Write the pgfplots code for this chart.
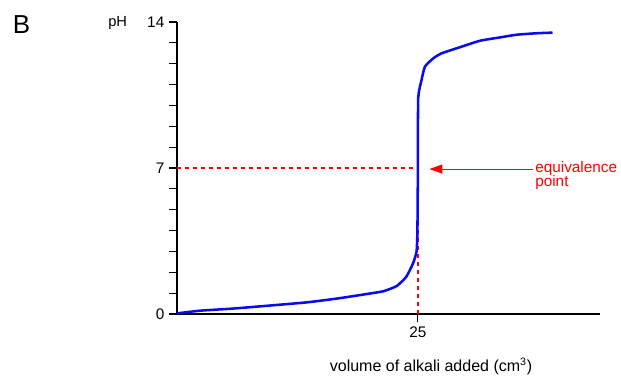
\documentclass[border=0pt]{standalone}
\usepackage{pgfplots}
\pgfplotsset{compat=1.18}
\usepackage{fontspec}
\setmainfont{Liberation Sans}
\usetikzlibrary{arrows.meta}
\definecolor{myred}{RGB}{255,0,0}
\definecolor{myblue}{RGB}{10,10,240}
\begin{document}
\begin{tikzpicture}
\useasboundingbox (0,0) rectangle (465.75pt,282pt);
\begin{axis}[
  at={(132.75pt,46.5pt)}, anchor=south west,
  scale only axis, width=317.25pt, height=219pt,
  xmin=0, xmax=43.9, ymin=0, ymax=14,
  axis x line=bottom, axis y line=left,
  axis line style={-, line width=0.9pt, black},
  xtick={25}, ytick={0,1,...,14},
  yticklabels={0,,,,,,,7,,,,,,,14},
  tick align=outside, major tick length=6pt,
  tick style={black, line width=0.8pt},
  /pgf/number format/assume math mode=true,
  ticklabel style={font=\fontsize{11.5}{13}\selectfont},
  clip=false,
]
\addplot[myred, line width=0.9pt, dash pattern=on 3pt off 3pt] coordinates {(0,7) (25,7)};
\addplot[myred, line width=1.1pt, dash pattern=on 3pt off 3pt] coordinates {(25.02,0) (25.02,7)};
\addplot[myblue, line width=1.9pt, line join=round, smooth, tension=0.3] coordinates {
(0,0.03) (2.4,0.16) (5.8,0.26) (10,0.42) (13.5,0.56) (16.6,0.74) (19.3,0.93)
(21.4,1.09) (22.8,1.34) (23.8,1.79) (24.5,2.43) (24.86,2.99) (24.95,4)
(25.0,7) (25.03,10.34) (25.38,11.22) (25.73,11.86) (26.6,12.26) (27.46,12.5)
(29.36,12.79) (31.43,13.1) (33.5,13.26) (35.24,13.39) (37.3,13.46) (38.97,13.49)
};
\draw[myred, line width=0.75pt, -{Triangle[length=9.75pt, width=6.75pt]}] (axis cs:36.9,6.95) -- (axis cs:26.2,6.95);
\end{axis}
\node[anchor=base west, inner sep=0, myred, font=\fontsize{11.5}{12}\selectfont] at (401.25pt,153pt) {equivalence};
\node[anchor=base west, inner sep=0, myred, font=\fontsize{11.5}{12}\selectfont] at (401.25pt,142.5pt) {point};
\node[anchor=base, inner sep=0, font=\fontsize{12}{14}\selectfont] at (323.25pt,3.2pt) {volume of alkali added (cm\textsuperscript{3})};
\node[anchor=base west, inner sep=0, font=\fontsize{11}{13}\selectfont] at (81pt,262pt) {pH};
\node[anchor=base west, inner sep=0, font=\fontsize{19.5}{22}\selectfont] at (9.5pt,257pt) {B};
\end{tikzpicture}
\end{document}
